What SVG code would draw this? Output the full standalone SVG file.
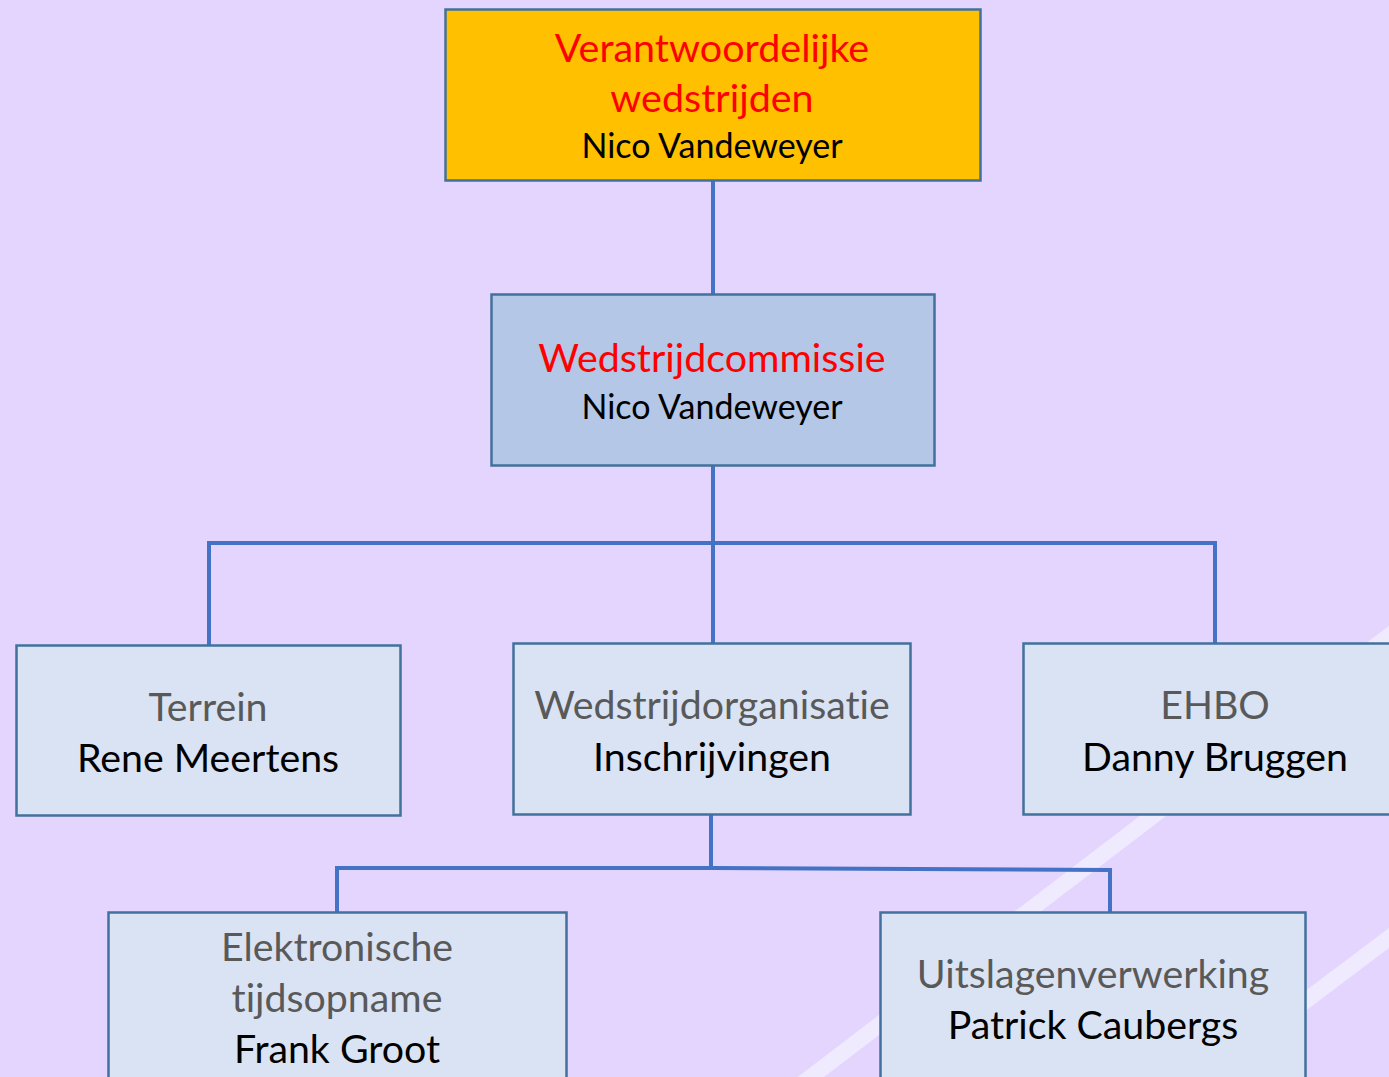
<svg xmlns="http://www.w3.org/2000/svg" width="1389" height="1077" viewBox="0 0 1389 1077">
<style>
.box{stroke:#41719C;stroke-width:2.5}
.top{fill:#FFC000}
.mid{fill:#B4C7E7}
.lite{fill:#DAE3F3}
text{font-family:Lato,"Open Sans",sans-serif;text-anchor:middle;font-variant-ligatures:none}
.red{fill:#FF0000}
.blk{fill:#000000}
.gry{fill:#595959}
.low{font-size:39.3px}
.conn{stroke:#4472C4;stroke-width:4;fill:none}
.stripe{stroke:#EFEAFD;stroke-width:16}
</style>
<rect width="1389" height="1077" fill="#E4D5FE"/>
<g id="background-stripes">
<line class="stripe" x1="1567" y1="500" x2="706" y2="1157"/>
<line class="stripe" x1="1572" y1="800" x2="1174" y2="1100"/>
</g>
<g id="connectors">
<line class="conn" x1="713" y1="180" x2="713" y2="294"/>
<line class="conn" x1="713" y1="465" x2="713" y2="643"/>
<polyline class="conn" points="209,645 209,543 1215,543 1215,643"/>
<line class="conn" x1="711" y1="814" x2="711" y2="869"/>
<polyline class="conn" points="337,912 337,868 711,868 1110,870 1110,912"/>
</g>
<g id="node-verantwoordelijke">
<rect class="box top" x="445.5" y="9.5" width="535" height="171"/>
<text class="red" x="712" y="62" font-size="39.5">Verantwoordelijke</text>
<text class="red" x="712" y="112" font-size="39.5">wedstrijden</text>
<text class="blk" x="712" y="158" font-size="34">Nico Vandeweyer</text>
</g>
<g id="node-wedstrijdcommissie">
<rect class="box mid" x="491.5" y="294.5" width="443" height="171"/>
<text class="red" x="712" y="372" font-size="39.4">Wedstrijdcommissie</text>
<text class="blk" x="712" y="419" font-size="34">Nico Vandeweyer</text>
</g>
<g id="node-terrein">
<rect class="box lite" x="16.5" y="645.5" width="384" height="170"/>
<text class="gry low" x="208" y="721">Terrein</text>
<text class="blk low" x="208" y="772">Rene Meertens</text>
</g>
<g id="node-wedstrijdorganisatie">
<rect class="box lite" x="513.5" y="643.5" width="397" height="171"/>
<text class="gry low" x="712" y="719">Wedstrijdorganisatie</text>
<text class="blk low" x="712" y="771">Inschrijvingen</text>
</g>
<g id="node-ehbo">
<rect class="box lite" x="1023.5" y="643.5" width="385" height="171"/>
<text class="gry low" x="1215" y="719">EHBO</text>
<text class="blk low" x="1215" y="771">Danny Bruggen</text>
</g>
<g id="node-elektronische">
<rect class="box lite" x="108.5" y="912.5" width="458" height="180"/>
<text class="gry low" x="337" y="961">Elektronische</text>
<text class="gry low" x="337" y="1012">tijdsopname</text>
<text class="blk low" x="337" y="1063">Frank Groot</text>
</g>
<g id="node-uitslagen">
<rect class="box lite" x="880.5" y="912.5" width="425" height="180"/>
<text class="gry low" x="1093" y="988">Uitslagenverwerking</text>
<text class="blk low" x="1093" y="1039">Patrick Caubergs</text>
</g>
</svg>
